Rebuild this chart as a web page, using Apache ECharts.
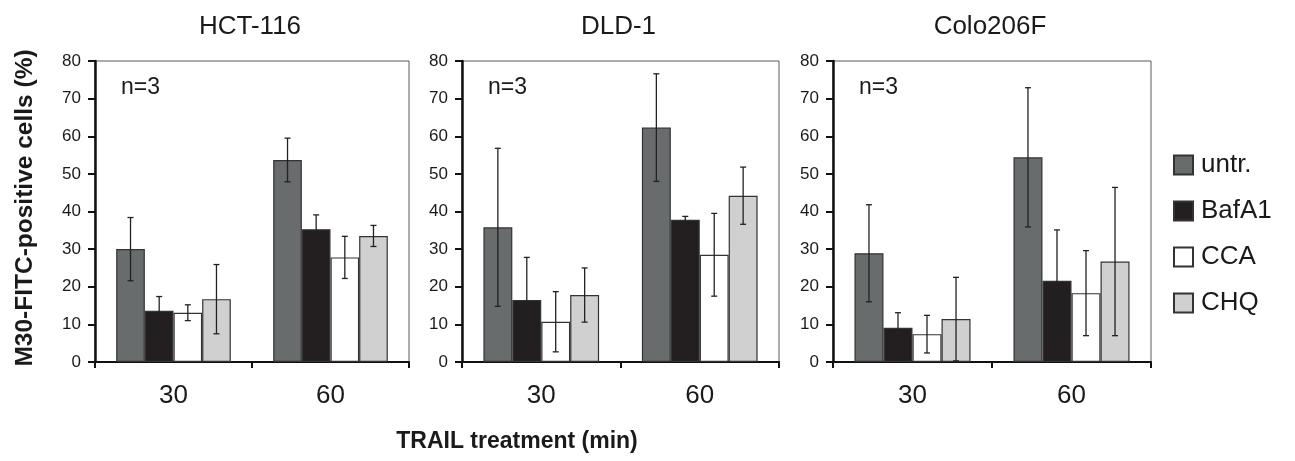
<!DOCTYPE html>
<html>
<head>
<meta charset="utf-8">
<script src="https://cdn.jsdelivr.net/npm/echarts@6/dist/echarts.min.js"></script>
<style>
html,body{margin:0;padding:0;background:#fff;}
#chart{width:1295px;height:461px;}
</style>
</head>
<body>
<div id="chart"></div>
<script>
// ---- data ----
const categories = ['30', '60'];
const treatments = ['untr.', 'BafA1', 'CCA', 'CHQ'];
const cellLines = ['HCT-116', 'DLD-1', 'Colo206F'];
const yTicks = [0, 10, 20, 30, 40, 50, 60, 70, 80];

// means per treatment: [30 min, 60 min]
const hctMeans = [[30.0, 53.7], [13.6, 35.3], [13.1, 27.8], [16.7, 33.5]];
const hctErrors = [[8.4, 5.8], [3.8, 3.8], [2.1, 5.6], [9.2, 2.8]];
const dldMeans = [[35.8, 62.3], [16.5, 37.8], [10.7, 28.5], [17.8, 44.2]];
const dldErrors = [[21.0, 14.3], [11.3, 0.9], [8.0, 11.0], [7.2, 7.6]];
const coloMeans = [[28.9, 54.4], [9.1, 21.6], [7.4, 18.3], [11.4, 26.7]];
const coloErrors = [[12.9, 18.5], [4.0, 13.5], [5.0, 11.3], [11.1, 19.7]];

const panelMeans = [hctMeans, dldMeans, coloMeans];
const panelErrors = [hctErrors, dldErrors, coloErrors];

// ---- styling ----
const FONT = "'Liberation Sans', Arial, Helvetica, sans-serif";
const colors = ['#686c6c', '#231f20', '#ffffff', '#d0d0d0'];
const grids = [
  {left: 95, top: 61, width: 314, height: 301},
  {left: 462, top: 61, width: 317, height: 301},
  {left: 833, top: 61, width: 318, height: 301}
];
const CAT_GAP = 0.27;

const chart = echarts.init(document.getElementById('chart'), null, {renderer: 'canvas'});

const gridOpts = grids.map(g => Object.assign({
  show: true, borderColor: '#5a5a5a', borderWidth: 1, backgroundColor: 'transparent'
}, g));

const xAxes = grids.map((g, i) => ({
  type: 'category', gridIndex: i, data: categories,
  axisLine: {lineStyle: {color: '#111', width: 2}},
  axisTick: {show: true, length: 6, lineStyle: {color: '#111', width: 2}},
  axisLabel: {fontFamily: FONT, fontSize: 26, color: '#1a1a1a', margin: 21}
}));

const yAxes = grids.map((g, i) => ({
  type: 'value', gridIndex: i, min: yTicks[0], max: yTicks[yTicks.length - 1], interval: 10,
  axisLine: {show: true, lineStyle: {color: '#111', width: 2.5}},
  axisTick: {show: true, length: 7, lineStyle: {color: '#111', width: 2}},
  splitLine: {show: false},
  axisLabel: {fontFamily: FONT, fontSize: 17, color: '#1a1a1a', margin: 14}
}));

const series = [];
panelMeans.forEach((means, p) => {
  means.forEach((vals, s) => {
    series.push({
      type: 'bar', name: treatments[s], xAxisIndex: p, yAxisIndex: p,
      data: vals, barGap: '0%', barCategoryGap: (CAT_GAP * 100) + '%',
      itemStyle: {color: colors[s], borderColor: '#333', borderWidth: 1.2},
      emphasis: {disabled: true}, z: 2
    });
  });
  means.forEach((vals, s) => {
    const errs = panelErrors[p][s];
    series.push({
      type: 'custom', name: treatments[s] + ' err', xAxisIndex: p, yAxisIndex: p,
      data: vals.map((v, k) => [k, v, errs[k]]),
      z: 5, silent: true,
      renderItem: function (params, api) {
        const k = api.value(0), v = api.value(1), e = api.value(2);
        const band = api.size([1, 0])[0];
        const bw = band * (1 - CAT_GAP) / 4;
        const c = api.coord([k, v]);
        const x = c[0] + (s - 1.5) * bw;
        const yTop = api.coord([k, v + e])[1];
        const yBot = api.coord([k, Math.max(0, v - e)])[1];
        const cap = 3;
        const st = {stroke: '#222', lineWidth: 1.3};
        return {type: 'group', children: [
          {type: 'line', shape: {x1: x, y1: yTop, x2: x, y2: yBot}, style: st},
          {type: 'line', shape: {x1: x - cap, y1: yTop, x2: x + cap, y2: yTop}, style: st},
          {type: 'line', shape: {x1: x - cap, y1: yBot, x2: x + cap, y2: yBot}, style: st}
        ]};
      }
    });
  });
});

const graphics = [];
cellLines.forEach((name, i) => {
  const g = grids[i];
  graphics.push({
    type: 'text', x: g.left + g.width / 2 - 2, y: 27,
    style: {text: name, fontFamily: FONT, fontSize: 26, fill: '#1a1a1a', textAlign: 'center', textVerticalAlign: 'middle'}
  });
  graphics.push({
    type: 'text', x: g.left + 26, y: 88,
    style: {text: 'n=3', fontFamily: FONT, fontSize: 23, fill: '#1a1a1a', textVerticalAlign: 'middle'}
  });
});
graphics.push({
  type: 'text', x: 517, y: 442,
  style: {text: 'TRAIL treatment (min)', fontFamily: FONT, fontSize: 23, fontWeight: 'bold', fill: '#1a1a1a',
    textAlign: 'center', textVerticalAlign: 'middle'}
});
graphics.push({
  type: 'text', x: 25, y: 208, rotation: Math.PI / 2,
  style: {text: 'M30-FITC-positive cells (%)', fontFamily: FONT, fontSize: 24.5, fontWeight: 'bold', fill: '#1a1a1a',
    textAlign: 'center', textVerticalAlign: 'middle'}
});

chart.setOption({
  animation: false,
  backgroundColor: '#ffffff',
  grid: gridOpts,
  xAxis: xAxes,
  yAxis: yAxes,
  legend: {
    data: treatments, orient: 'vertical', left: 1173, top: 152, padding: 0,
    itemWidth: 19, itemHeight: 19, itemGap: 20, icon: 'rect',
    textStyle: {fontFamily: FONT, fontSize: 26, color: '#1a1a1a', padding: [0, 0, 0, 3]},
    selectedMode: false
  },
  series: series,
  graphic: graphics
});
</script>
</body>
</html>
